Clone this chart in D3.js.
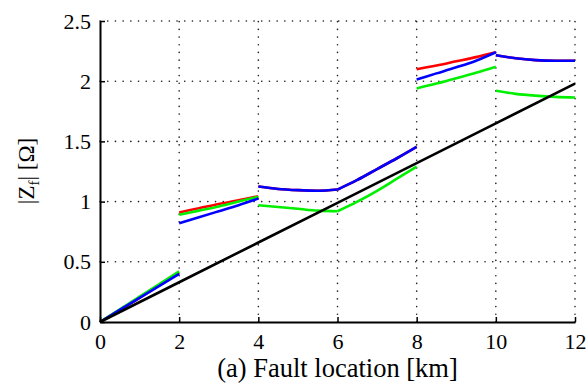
<!DOCTYPE html>
<html><head><meta charset="utf-8">
<script src="https://cdn.jsdelivr.net/npm/d3@7"></script>
</head>
<body style="margin:0;background:#fff">
<svg id="c" width="586" height="384" style="display:block"></svg>
<script>
// Data: each fault segment (2 km wide) sampled at offsets 0,0.5,1,1.5,2 km
const segStarts = [0, 2, 4, 6, 8, 10];
const offsets = [0, 0.5, 1, 1.5, 2];
const redVals = [
  [0, 0.10, 0.20, 0.305, 0.41],
  [0.91, 0.945, 0.98, 1.01, 1.045],
  [1.125, 1.105, 1.095, 1.09, 1.10],
  [1.10, 1.18, 1.27, 1.36, 1.455],
  [2.10, 2.13, 2.165, 2.20, 2.24],
  [2.215, 2.19, 2.175, 2.17, 2.17]
];
const greenVals = [
  [0, 0.105, 0.21, 0.315, 0.42],
  [0.89, 0.925, 0.96, 1.0, 1.04],
  [0.97, 0.955, 0.94, 0.925, 0.92],
  [0.92, 1.0, 1.09, 1.19, 1.29],
  [1.94, 1.98, 2.025, 2.07, 2.12],
  [1.92, 1.895, 1.88, 1.87, 1.865]
];
const blueVals = [
  [0, 0.10, 0.20, 0.30, 0.40],
  [0.82, 0.87, 0.92, 0.97, 1.025],
  [1.125, 1.105, 1.095, 1.09, 1.10],
  [1.10, 1.18, 1.27, 1.36, 1.455],
  [2.015, 2.065, 2.115, 2.17, 2.24],
  [2.215, 2.19, 2.175, 2.17, 2.17]
];
const blackX = [0, 2, 4, 6, 8, 10, 12];
const blackVals = [0, 0.33, 0.66, 0.99, 1.32, 1.65, 1.98];
const xTicks = [0, 2, 4, 6, 8, 10, 12];
const yTicks = [0, 0.5, 1, 1.5, 2, 2.5];

const FONT = "Liberation Serif";
const svg = d3.select("#c");
const L = 100, R = 575, T = 21, B = 322;
const x = d3.scaleLinear().domain([0, 12]).range([L, R]);
const y = d3.scaleLinear().domain([0, 2.5]).range([B, T]);

// grid (dotted)
const grid = svg.append("g").attr("stroke", "#222").attr("stroke-width", 1.6)
  .attr("stroke-dasharray", "0.1 7.6").attr("stroke-linecap", "round");
xTicks.filter(d => d > 0).forEach(d => {
  grid.append("line").attr("x1", x(d)).attr("x2", x(d)).attr("y1", y(0)).attr("y2", y(2.5));
});
yTicks.filter(d => d > 0).forEach(d => {
  grid.append("line").attr("x1", x(0)).attr("x2", x(12)).attr("y1", y(d)).attr("y2", y(d));
});

const line = d3.line().x(d => x(d[0])).y(d => y(d[1]));
function drawSeries(vals, color) {
  vals.forEach((seg, i) => {
    const pts = seg.map((v, j) => [segStarts[i] + offsets[j], v]);
    svg.append("path").attr("d", line.curve(d3.curveMonotoneX)(pts))
      .attr("fill", "none").attr("stroke", color).attr("stroke-width", 2.6);
  });
}
drawSeries(redVals, "#ff0000");
drawSeries(greenVals, "#00f000");
drawSeries(blueVals, "#0000ff");
svg.append("path").attr("d", d3.line().x((d, i) => x(blackX[i])).y(d => y(d))(blackVals))
  .attr("fill", "none").attr("stroke", "#000").attr("stroke-width", 2.6);

// axes
const xAxis = d3.axisBottom(x).tickValues(xTicks).tickFormat(d3.format("d")).tickSizeInner(-5).tickSizeOuter(0).tickPadding(11);
const yAxis = d3.axisLeft(y).tickValues(yTicks).tickFormat(d => d).tickSizeInner(-5).tickSizeOuter(0).tickPadding(9);
const gx = svg.append("g").attr("transform", `translate(0,${B})`).call(xAxis);
const gy = svg.append("g").attr("transform", `translate(${L},0)`).call(yAxis);
[gx, gy].forEach(g => {
  g.attr("font-family", FONT).attr("font-size", 22);
  g.select(".domain").attr("stroke", "#000").attr("stroke-width", 2);
  g.selectAll(".tick line").attr("stroke", "#000").attr("stroke-width", 1.5);
  g.selectAll("text").attr("font-family", FONT).attr("font-size", 22).attr("fill", "#000");
});

svg.append("text").attr("x", (L + R) / 2 + 0).attr("y", 377).attr("text-anchor", "middle")
  .attr("font-family", FONT).attr("font-size", 26.5).text("(a) Fault location [km]");

const yl = svg.append("text").attr("transform", "translate(34,171) rotate(-90)")
  .attr("text-anchor", "middle").attr("font-family", FONT).attr("font-size", 23);
yl.append("tspan").text("|Z");
yl.append("tspan").attr("font-size", 15).attr("dy", 5).text("f");
yl.append("tspan").attr("dy", -5).text("| [Ω]");
</script></body></html>
